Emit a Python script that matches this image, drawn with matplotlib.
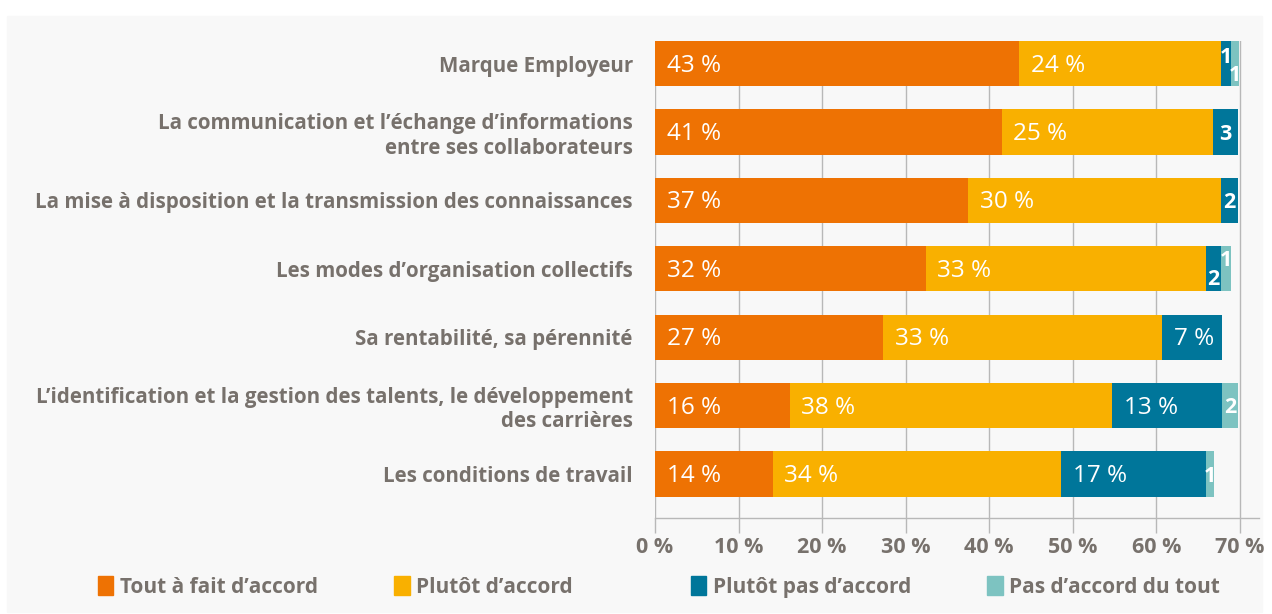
import matplotlib.pyplot as plt
from matplotlib.patches import Rectangle, Patch

# data
categories = [
    "Marque Employeur",
    "La communication et l\u2019échange d\u2019informations\nentre ses collaborateurs",
    "La mise à disposition et la transmission des connaissances",
    "Les modes d\u2019organisation collectifs",
    "Sa rentabilité, sa pérennité",
    "L\u2019identification et la gestion des talents, le développement\ndes carrières",
    "Les conditions de travail",
]
series_names = ["Tout à fait d\u2019accord", "Plutôt d\u2019accord",
                "Plutôt pas d\u2019accord", "Pas d\u2019accord du tout"]
tout_a_fait = [43.6, 41.5, 37.5, 32.4, 27.3, 16.1, 14.1]
plutot = [24.2, 25.3, 30.3, 33.5, 33.4, 38.6, 34.5]
plutot_pas = [1.1, 3.0, 2.0, 1.9, 7.2, 13.2, 17.3]
pas_du_tout = [1.0, 0.0, 0.0, 1.1, 0.0, 1.9, 1.0]
# printed labels (None = no label)
tout_a_fait_lbl = [43, 41, 37, 32, 27, 16, 14]
plutot_lbl = [24, 25, 30, 33, 33, 38, 34]
plutot_pas_lbl = [1, 3, 2, 2, 7, 13, 17]
pas_du_tout_lbl = [1, None, None, 1, None, 2, 1]
xticks = [0, 10, 20, 30, 40, 50, 60, 70]

colors = ["#EE7203", "#F9B000", "#00769A", "#7DC3C1"]
grey_txt = "#77716C"
grid_c = "#B8B8B8"
bg = "#F8F8F8"

plt.rcParams["font.family"] = ["Open Sans", "DejaVu Sans"]

fig = plt.figure(figsize=(12.72, 6.14), dpi=100)
fig.patch.set_facecolor("white")
fig.patches.append(Rectangle((7 / 1272, 0.003), 1255 / 1272, 1 - 16 / 614 - 0.003,
                             transform=fig.transFigure, color=bg, zorder=-10))

ax = fig.add_axes([655 / 1272, 1 - 518 / 614, (1259 - 655) / 1272, (518 - 41) / 614])
ax.set_facecolor("none")

series = [tout_a_fait, plutot, plutot_pas, pas_du_tout]
labels = [tout_a_fait_lbl, plutot_lbl, plutot_pas_lbl, pas_du_tout_lbl]
# vertical nudges for tiny neighbouring labels (row, series) -> offset
nudge = {(0, 2): -0.12, (0, 3): 0.15, (3, 2): 0.13, (3, 3): -0.15}

ypos = list(range(len(categories)))
left = [0.0] * len(categories)
for s, (vals, lbls) in enumerate(zip(series, labels)):
    ax.barh(ypos, vals, left=left, height=0.66, color=colors[s], zorder=3)
    for i, (v, lb) in enumerate(zip(vals, lbls)):
        if lb is None:
            continue
        if lb >= 5:
            ax.text(left[i] + 1.4, i + 0.03, f"{lb} %", color="white", fontsize=17.5,
                    ha="left", va="center", zorder=4)
        else:
            ax.text(left[i] + v / 2, i + 0.03 + nudge.get((i, s), 0), str(lb), color="white",
                    fontsize=15.5, fontweight="bold", ha="center", va="center", zorder=4)
    left = [l + v for l, v in zip(left, vals)]

ax.set_xlim(0, 72.3)
ax.set_ylim(len(categories) - 1 + 0.644, -0.33)
ax.set_yticks(ypos)
ax.set_yticklabels(categories, fontsize=14.8, fontweight="bold", color=grey_txt)
ax.tick_params(axis="y", length=0, pad=16)
ax.set_xticks(xticks)
ax.set_xticklabels([f"{t} %" for t in xticks], fontsize=15.5, fontweight="bold", color=grey_txt)
ax.tick_params(axis="x", length=11, width=1, color=grid_c, pad=3)
ax.grid(axis="x", color=grid_c, lw=1, zorder=0)
ax.set_axisbelow(True)
for side in ["top", "right", "left"]:
    ax.spines[side].set_visible(False)
ax.spines["bottom"].set_color(grid_c)
ax.spines["bottom"].set_linewidth(1)

# legend, one fixed-width slot per entry
for s, name in enumerate(series_names):
    fig.legend(handles=[Patch(color=colors[s])], labels=[name], loc="center left",
               bbox_to_anchor=((79 + s * 296.5) / 1272, 1 - 587 / 614), frameon=False,
               prop={"size": 15, "weight": "bold"}, labelcolor=grey_txt,
               handlelength=0.75, handleheight=1.0, handletextpad=0.3)

fig.savefig("out.png", dpi=100, facecolor=fig.get_facecolor())
